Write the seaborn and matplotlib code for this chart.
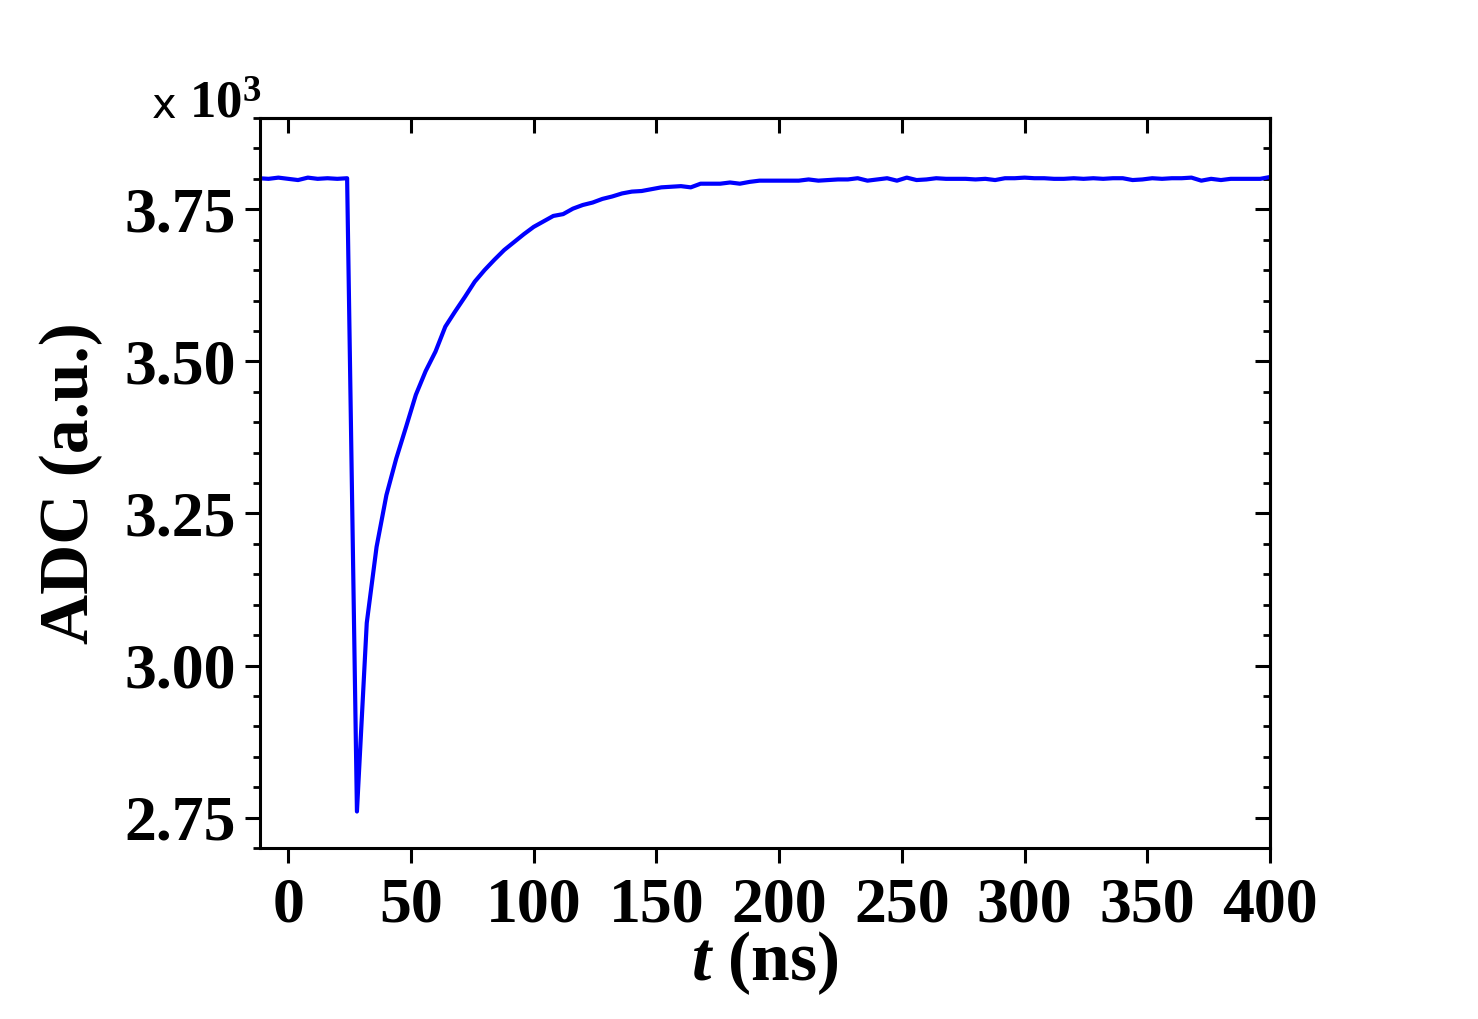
import numpy as np
import pandas as pd
import matplotlib
matplotlib.use("Agg")
import matplotlib.pyplot as plt
import seaborn as sns
from matplotlib.ticker import MultipleLocator, FuncFormatter

# sampling times (ns), 4 ns steps
t_ns = np.arange(-12, 401, 4)

# ADC counts
adc = [
    3801, 3800, 3802, 3800, 3798, 3802, 3800, 3801, 3800, 3801,   # -12 .. 24
    2760, 3070, 3195, 3280, 3340, 3392, 3445, 3484, 3516, 3557,   # 28 .. 64
    3582, 3606, 3631, 3650, 3667, 3683, 3696, 3709, 3721, 3730,   # 68 .. 104
    3739, 3742, 3751, 3757, 3761, 3767, 3771, 3776, 3779, 3780,   # 108 .. 144
    3783, 3786, 3787, 3788, 3786, 3792, 3792, 3792, 3794, 3792,   # 148 .. 184
    3795, 3797, 3797, 3797, 3797, 3797, 3799, 3797, 3798, 3799,   # 188 .. 224
    3799, 3801, 3797, 3799, 3801, 3797, 3802, 3798, 3799, 3801,   # 228 .. 264
    3800, 3800, 3800, 3799, 3800, 3798, 3801, 3801, 3802, 3801,   # 268 .. 304
    3801, 3800, 3800, 3801, 3800, 3801, 3800, 3801, 3801, 3798,   # 308 .. 344
    3799, 3801, 3800, 3801, 3801, 3802, 3797, 3800, 3798, 3800,   # 348 .. 384
    3800, 3800, 3800, 3803,                                       # 388 .. 400
]

df = pd.DataFrame({"t": t_ns, "adc": adc})

sns.set_style("ticks")
plt.rcParams["font.family"] = ["Liberation Serif", "DejaVu Serif"]
plt.rcParams["font.weight"] = "bold"
plt.rcParams["text.color"] = "black"
plt.rcParams["axes.labelcolor"] = "black"
plt.rcParams["xtick.color"] = "black"
plt.rcParams["ytick.color"] = "black"
plt.rcParams["axes.edgecolor"] = "black"
plt.rcParams["mathtext.fontset"] = "custom"
plt.rcParams["mathtext.rm"] = "Liberation Serif"
plt.rcParams["mathtext.bf"] = "Liberation Serif:bold"
plt.rcParams["mathtext.it"] = "Liberation Serif:italic:bold"

fig = plt.figure(figsize=(14.78, 10.19), dpi=100)
ax = fig.add_axes([0.1759, 0.1678, 0.6834, 0.7164])

sns.lineplot(data=df, x="t", y="adc", color="#0000ff", linewidth=3.0, ax=ax)

ax.set_xlim(-11.5, 400)
ax.set_ylim(2700, 3900)

ax.xaxis.set_major_locator(MultipleLocator(50))
ax.yaxis.set_major_locator(MultipleLocator(250))
ax.yaxis.set_minor_locator(MultipleLocator(50))
ax.yaxis.set_major_formatter(FuncFormatter(lambda v, p: f"{v / 1000:.2f}"))

for s in ax.spines.values():
    s.set_linewidth(2.2)
    s.set_color("black")
    s.set_visible(True)

ax.tick_params(axis="both", which="major", length=11, width=2.2,
               labelsize=46, color="black", labelcolor="black")
ax.tick_params(axis="y", which="minor", length=5, width=2.0, left=True, right=False,
               direction="out", color="black")
ax.tick_params(axis="x", which="major", direction="out", bottom=True, top=False, pad=10)
ax.tick_params(axis="y", which="major", direction="out", left=True, right=False, pad=6)

# inward ticks on the top and right edges
sec_x = ax.secondary_xaxis("top")
sec_x.xaxis.set_major_locator(MultipleLocator(50))
sec_x.tick_params(direction="in", length=11, width=2.2, labeltop=False, color="black")
sec_x.spines["top"].set_linewidth(2.2)
sec_x.spines["top"].set_color("black")
sec_y = ax.secondary_yaxis("right")
sec_y.yaxis.set_major_locator(MultipleLocator(250))
sec_y.yaxis.set_minor_locator(MultipleLocator(50))
sec_y.tick_params(which="major", direction="in", length=11, width=2.2, labelright=False,
                  color="black")
sec_y.tick_params(which="minor", direction="in", length=5, width=2.0, labelright=False,
                  color="black")
sec_y.spines["right"].set_linewidth(2.2)
sec_y.spines["right"].set_color("black")

for lab in ax.get_xticklabels() + ax.get_yticklabels():
    lab.set_fontweight("bold")

ax.set_xlabel(r"$\mathit{t}$ (ns)", fontsize=50, fontweight="bold", labelpad=-4)
ax.set_ylabel("ADC (a.u.)", fontsize=50, fontweight="bold", labelpad=16)

ax.text(-0.107, 1.0, "x", transform=ax.transAxes,
        fontsize=30, fontweight="normal", family="DejaVu Sans",
        ha="left", va="baseline")
ax.text(-0.07, 1.0, r"$\mathbf{10}^{\mathrm{3}}$", transform=ax.transAxes,
        fontsize=38, ha="left", va="baseline")

fig.savefig("out.png", dpi=100)
